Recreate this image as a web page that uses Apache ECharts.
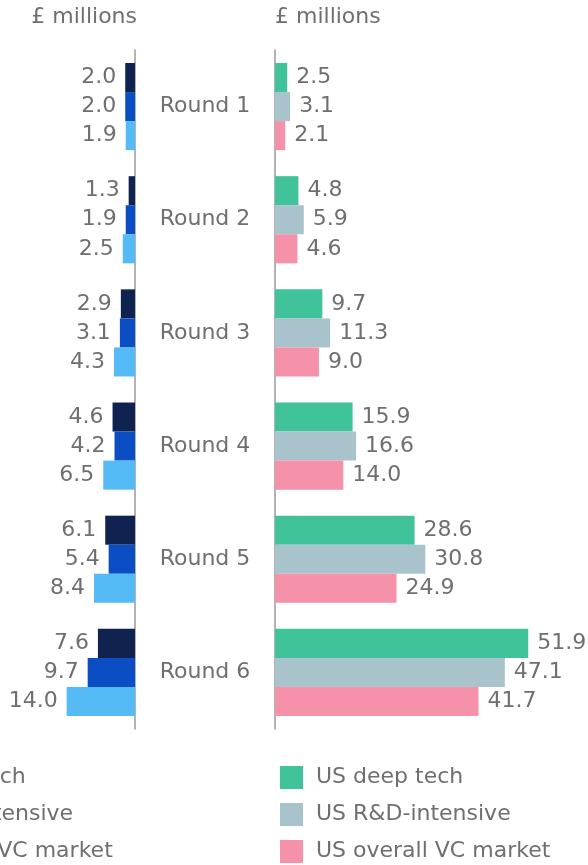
<!DOCTYPE html>
<html>
<head>
<meta charset="utf-8">
<script src="https://cdn.jsdelivr.net/npm/echarts@6/dist/echarts.min.js"></script>
<style>
  html, body { margin: 0; padding: 0; background: #fff; overflow: hidden; }
  /* the source picture is cropped on the left and bottom, so the chart is bigger than the page and shifted */
  #main { width: 788px; height: 940px; margin-left: -200px; }
</style>
</head>
<body>
<div id="main"></div>
<script>
// data
const rounds = ["Round 1", "Round 2", "Round 3", "Round 4", "Round 5", "Round 6"];
const ukDeepTech = [2.0, 1.3, 2.9, 4.6, 6.1, 7.6];
const ukRnd = [2.0, 1.9, 3.1, 4.2, 5.4, 9.7];
const ukOverall = [1.9, 2.5, 4.3, 6.5, 8.4, 14.0];
const usDeepTech = [2.5, 4.8, 9.7, 15.9, 28.6, 51.9];
const usRnd = [3.1, 5.9, 11.3, 16.6, 30.8, 47.1];
const usOverall = [2.1, 4.6, 9.0, 14.0, 24.9, 41.7];
const unitLabel = "£ millions";

const font = "DejaVu Sans";
const textGrey = "#6f6f6f";

function barSeries(name, data, color, axisIdx, side) {
  return {
    name: name,
    type: "bar",
    xAxisIndex: axisIdx,
    yAxisIndex: axisIdx,
    data: data,
    barGap: "0%",
    barCategoryGap: "23%",
    itemStyle: { color: color },
    label: {
      show: true,
      position: side,
      distance: 9,
      color: textGrey,
      fontFamily: font,
      fontSize: 22,
      formatter: (p) => p.value.toFixed(1),
    },
  };
}

let myChart = echarts.init(document.getElementById("main"));
let option = {
  animation: false,
  graphic: [
    {
      type: "text",
      right: 451,
      top: 6,
      style: { text: unitLabel, fill: textGrey, font: "22px " + font },
    },
    {
      type: "text",
      left: 475,
      top: 6,
      style: { text: unitLabel, fill: textGrey, font: "22px " + font },
    },
  ],
  legend: [
    {
      orient: "vertical",
      left: 37,
      top: 761,
      height: 140,
      icon: "rect",
      itemWidth: 23,
      itemHeight: 23,
      itemGap: 14,
      textStyle: { color: textGrey, fontFamily: font, fontSize: 22, padding: [0, 0, 0, 8] },
      data: ["UK deep tech", "UK R&D-intensive", "UK overall VC market"],
    },
    {
      orient: "vertical",
      left: 475,
      top: 761,
      height: 140,
      icon: "rect",
      itemWidth: 23,
      itemHeight: 23,
      itemGap: 14,
      textStyle: { color: textGrey, fontFamily: font, fontSize: 22, padding: [0, 0, 0, 8] },
      data: ["US deep tech", "US R&D-intensive", "US overall VC market"],
    },
  ],
  grid: [
    { left: 188.6, width: 146.4, top: 50, height: 679 },
    { left: 475, width: 292.8, top: 50, height: 679 },
  ],
  xAxis: [
    { gridIndex: 0, type: "value", min: 0, max: 30, inverse: true, show: false },
    { gridIndex: 1, type: "value", min: 0, max: 60, show: false },
  ],
  yAxis: [
    {
      gridIndex: 0,
      type: "category",
      data: rounds,
      inverse: true,
      position: "right",
      axisLine: { show: true, lineStyle: { color: "#9a9a9a", width: 1.5 } },
      axisTick: { show: false },
      axisLabel: {
        margin: 70,
        align: "center",
        color: textGrey,
        fontFamily: font,
        fontSize: 22,
      },
    },
    {
      gridIndex: 1,
      type: "category",
      data: rounds,
      inverse: true,
      position: "left",
      axisLine: { show: true, lineStyle: { color: "#9a9a9a", width: 1.5 } },
      axisTick: { show: false },
      axisLabel: { show: false },
    },
  ],
  series: [
    barSeries("UK deep tech", ukDeepTech, "#10224f", 0, "left"),
    barSeries("UK R&D-intensive", ukRnd, "#0b4ec3", 0, "left"),
    barSeries("UK overall VC market", ukOverall, "#55bbf6", 0, "left"),
    barSeries("US deep tech", usDeepTech, "#40c29b", 1, "right"),
    barSeries("US R&D-intensive", usRnd, "#a8c3cc", 1, "right"),
    barSeries("US overall VC market", usOverall, "#f591a8", 1, "right"),
  ],
};
option && myChart.setOption(option);
</script>
</body>
</html>
